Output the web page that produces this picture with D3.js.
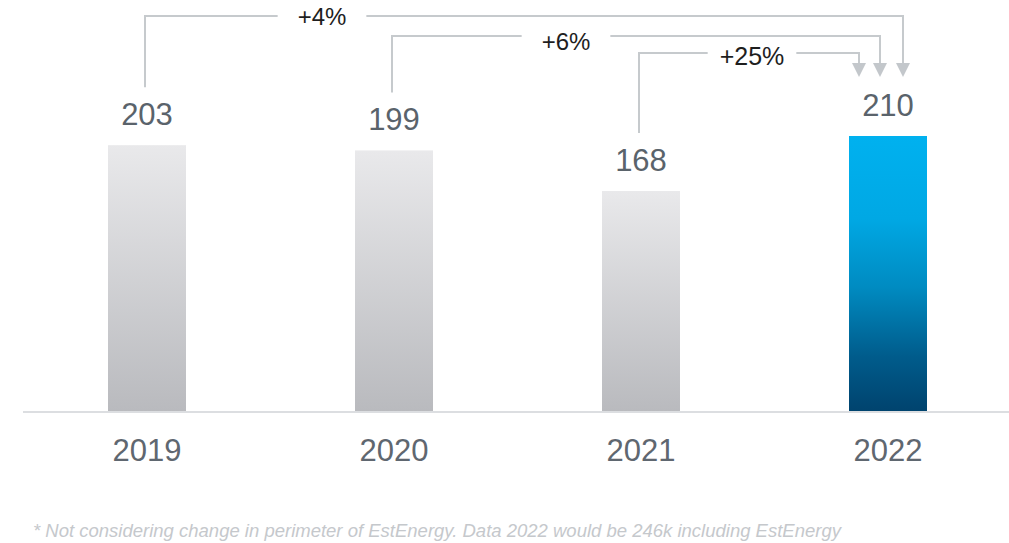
<!DOCTYPE html>
<html>
<head>
<meta charset="utf-8">
<script src="https://cdn.jsdelivr.net/npm/d3@7"></script>
<style>
  html, body { margin: 0; padding: 0; background: #ffffff; }
  svg { display: block; }
  text { font-family: "Liberation Sans", Arial, sans-serif; }
</style>
</head>
<body>
<svg id="chart" width="1009" height="543"></svg>
<script>
// Yearly values
const years = ["2019", "2020", "2021", "2022"];
const values = [203, 199, 168, 210];

// Growth annotations: from a year to the latest year
const growthFrom = ["2019", "2020", "2021"];
const growthLabels = ["+4%", "+6%", "+25%"];

const footnote = "* Not considering change in perimeter of EstEnergy. Data 2022 would be 246k including EstEnergy";

const W = 1009, H = 543;
const svg = d3.select("#chart");

const x = d3.scaleBand()
  .domain(years)
  .range([23.5, 1011.5])
  .paddingInner(1 - 78 / 247)
  .paddingOuter((1 - 78 / 247) / 2);

const y = d3.scaleLinear()
  .domain([0, 210])
  .range([411, 136]);

const cx = yr => x(yr) + x.bandwidth() / 2;

// Gradients
const defs = svg.append("defs");
const gGrey = defs.append("linearGradient").attr("id", "gradGrey")
  .attr("x1", 0).attr("y1", 0).attr("x2", 0).attr("y2", 1);
gGrey.append("stop").attr("offset", "0%").attr("stop-color", "#e9e9eb");
gGrey.append("stop").attr("offset", "100%").attr("stop-color", "#b9babe");

const gBlue = defs.append("linearGradient").attr("id", "gradBlue")
  .attr("x1", 0).attr("y1", 0).attr("x2", 0).attr("y2", 1);
[[0, "#00b1ef"], [0.3, "#00a8e4"], [0.55, "#008bc1"], [0.8, "#005c8c"], [1, "#00436e"]]
  .forEach(([o, c]) => gBlue.append("stop").attr("offset", o).attr("stop-color", c));

const data = years.map((yr, i) => ({ year: yr, value: values[i] }));
const latest = years[years.length - 1];

// Bars
svg.append("g").selectAll("rect")
  .data(data)
  .join("rect")
  .attr("x", d => x(d.year))
  .attr("width", x.bandwidth())
  .attr("y", d => y(d.value))
  .attr("height", d => y(0) - y(d.value))
  .attr("fill", d => d.year === latest ? "url(#gradBlue)" : "url(#gradGrey)");

// Baseline
svg.append("line")
  .attr("x1", 23).attr("x2", W)
  .attr("y1", y(0) + 1).attr("y2", y(0) + 1)
  .attr("stroke", "#dcdee1").attr("stroke-width", 2);

// Value labels
svg.append("g").selectAll("text")
  .data(data)
  .join("text")
  .attr("x", d => cx(d.year))
  .attr("y", d => y(d.value) - 20)
  .attr("text-anchor", "middle")
  .attr("font-size", 31)
  .attr("fill", "#5a636b")
  .text(d => d.value);

// Category axis labels
const xAxis = d3.axisBottom(x).tickSize(0).tickPadding(0);
const axisG = svg.append("g")
  .attr("transform", `translate(0, ${y(0)})`)
  .call(xAxis);
axisG.select(".domain").remove();
axisG.selectAll("text")
  .attr("font-family", "Liberation Sans, Arial, sans-serif")
  .attr("font-size", 31)
  .attr("fill", "#5f6770")
  .attr("dy", null)
  .attr("y", 50);

// Growth connectors
const levelY = [16, 36, 53];          // height of each horizontal run
const arrowOffset = [15, -8, -29];    // arrow x relative to latest bar centre
const labelShift = [175, 172, 111];   // label centre relative to origin bar centre
const labelBase = [25, 50, 65];       // label baseline
const labelPad = [20, 20, 12];
const labelFont = [24, 24, 25];
const tipY = 77, headH = 14, headW = 7;
const lineColor = "#c6cacd";

const conns = growthFrom.map((yr, i) => {
  const vi = years.indexOf(yr);
  return {
    x0: cx(yr) - 2,
    yb: y(values[vi]) - 58,
    yl: levelY[i],
    xa: cx(latest) + arrowOffset[i],
    lx: cx(yr) + labelShift[i],
    ly: labelBase[i],
    pad: labelPad[i],
    fs: labelFont[i],
    label: growthLabels[i]
  };
});

const cg = svg.append("g");
cg.selectAll("path.conn")
  .data(conns)
  .join("path")
  .attr("class", "conn")
  .attr("d", d => `M${d.x0},${d.yb} V${d.yl} H${d.xa} V${tipY - headH + 1}`)
  .attr("fill", "none")
  .attr("stroke", lineColor)
  .attr("stroke-width", 2);

cg.selectAll("path.head")
  .data(conns)
  .join("path")
  .attr("class", "head")
  .attr("d", d => `M${d.xa - headW},${tipY - headH} L${d.xa + headW},${tipY - headH} L${d.xa},${tipY} Z`)
  .attr("fill", "#c3c7cb");

// Label backgrounds knock out the lines behind them
const lg = svg.append("g");
const labels = lg.selectAll("g")
  .data(conns)
  .join("g");
labels.append("text")
  .attr("x", d => d.lx)
  .attr("y", d => d.ly)
  .attr("text-anchor", "middle")
  .attr("font-size", d => d.fs)
  .attr("fill", "#1e1e1e")
  .text(d => d.label)
  .each(function(d) {
    const b = this.getBBox();
    d3.select(this.parentNode).insert("rect", "text")
      .attr("x", b.x - d.pad)
      .attr("width", b.width + 2 * d.pad)
      .attr("y", d.ly - d.fs * 0.85)
      .attr("height", d.fs * 1.1)
      .attr("fill", "#ffffff");
  });

// Footnote
svg.append("text")
  .attr("x", 33)
  .attr("y", 537)
  .attr("font-size", 18.5)
  .attr("font-style", "italic")
  .attr("fill", "#c5c8cc")
  .text(footnote);
</script>
</body>
</html>
